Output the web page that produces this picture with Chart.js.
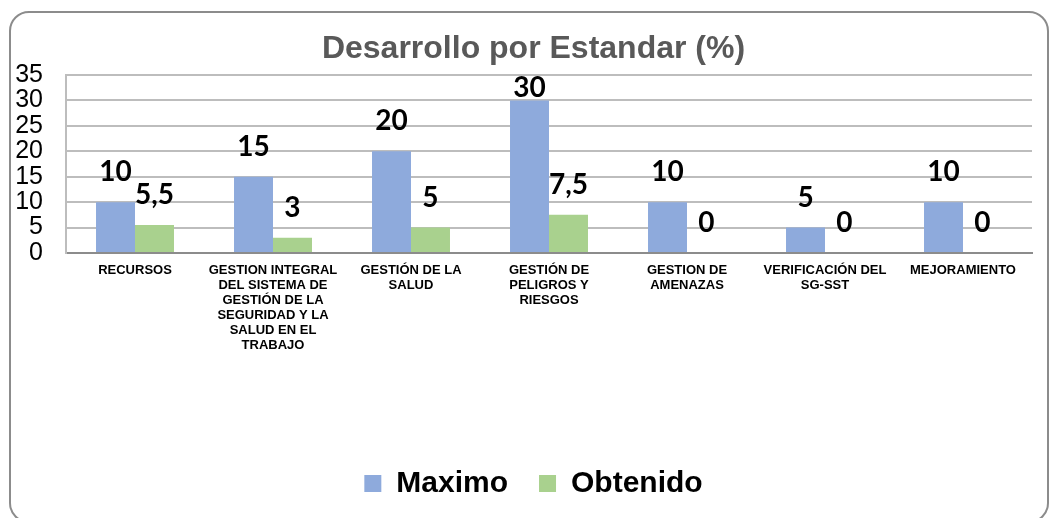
<!DOCTYPE html>
<html>
<head>
<meta charset="utf-8">
<script src="https://cdn.jsdelivr.net/npm/chart.js@4/dist/chart.umd.min.js"></script>
<style>
    html, body { margin: 0; padding: 0; background: #fff; }
    #wrap { position: relative; width: 1050px; height: 518px; overflow: hidden; }
    #frame {
        position: absolute; left: 9px; top: 11px; width: 1040px; height: 512px;
        box-sizing: border-box; border: 2px solid #8c8c8c; border-radius: 20px;
    }
    #chart { position: absolute; left: 0; top: 0; }
</style>
</head>
<body>
<div id="wrap">
    <div id="frame"></div>
    <canvas id="chart" width="1050" height="518"></canvas>
</div>
<script>
// ── Data ──────────────────────────────────────────────────────────────────
const categories = [
    ['RECURSOS'],
    ['GESTION INTEGRAL', 'DEL SISTEMA DE', 'GESTIÓN DE LA', 'SEGURIDAD Y LA', 'SALUD EN EL', 'TRABAJO'],
    ['GESTIÓN DE LA', 'SALUD'],
    ['GESTIÓN DE', 'PELIGROS Y', 'RIESGOS'],
    ['GESTION DE', 'AMENAZAS'],
    ['VERIFICACIÓN DEL', 'SG-SST'],
    ['MEJORAMIENTO'],
];
const maximo = [10, 15, 20, 30, 10, 5, 10];
const obtenido = [5.5, 3, 5, 7.5, 0, 0, 0];
const yTicks = [0, 5, 10, 15, 20, 25, 30, 35];

const BLUE = '#8eaadc';
const GREEN = '#a9d18e';
const GRID = '#bdbdbd';

// Value labels above each bar, kept inside the plot top
const barLabels = {
    id: 'barLabels',
    afterDatasetsDraw(chart) {
        const { ctx, chartArea } = chart;
        ctx.save();
        ctx.font = 'bold 28px Lato, "Liberation Sans", sans-serif';
        ctx.fillStyle = '#000';
        ctx.textAlign = 'center';
        ctx.textBaseline = 'middle';
        chart.data.datasets.forEach((ds, i) => {
            chart.getDatasetMeta(i).data.forEach((bar, j) => {
                const y = Math.max(bar.y - 30, chartArea.top + 13);
                ctx.fillText(String(ds.data[j]).replace('.', ','), bar.x, y);
            });
        });
        ctx.restore();
    },
};

new Chart(document.getElementById('chart'), {
    type: 'bar',
    data: {
        labels: categories,
        datasets: [
            { label: 'Maximo', data: maximo, backgroundColor: BLUE, borderWidth: 0 },
            { label: 'Obtenido', data: obtenido, backgroundColor: GREEN, borderWidth: 0 },
        ],
    },
    options: {
        responsive: false,
        animation: false,
        events: [],
        layout: { padding: { left: 35, right: 18, top: 0, bottom: 9.5 } },
        datasets: { bar: { categoryPercentage: 0.565, barPercentage: 1 } },
        plugins: {
            title: {
                display: true,
                text: 'Desarrollo por Estandar (%)',
                color: '#595959',
                font: { family: '"Liberation Sans", Arial, sans-serif', size: 32, weight: 'bold' },
                padding: { top: 30, bottom: 6.6 },
            },
            legend: {
                position: 'bottom',
                labels: {
                    color: '#000',
                    boxWidth: 17,
                    boxHeight: 17,
                    padding: 31,
                    font: { family: '"Liberation Sans", Arial, sans-serif', size: 30, weight: 'bold' },
                },
            },
            tooltip: { enabled: false },
        },
        scales: {
            x: {
                grid: { display: false, drawTicks: false },
                border: { color: '#8c8c8c', width: 2 },
                ticks: {
                    color: '#000',
                    autoSkip: false,
                    maxRotation: 0,
                    padding: 10,
                    font: { family: '"Liberation Sans", Arial, sans-serif', size: 13, weight: 'bold', lineHeight: 1.15 },
                },
                afterFit: (s) => { s.height = 184.5; },
            },
            y: {
                min: 0,
                max: 35,
                afterBuildTicks: (s) => { s.ticks = yTicks.map((v) => ({ value: v })); },
                grid: { color: GRID, lineWidth: 2, drawTicks: false },
                border: { color: GRID, width: 2 },
                ticks: {
                    color: '#000',
                    autoSkip: false,
                    padding: 23,
                    font: { family: '"Liberation Sans", Arial, sans-serif', size: 25, lineHeight: 1 },
                },
                afterFit: (s) => {
                    s.width = 31;
                    // labels sit left of the narrow axis box, so don't clip them
                    s._computeLabelArea = () => null;
                },
            },
        },
    },
    plugins: [barLabels],
});
</script>
</body>
</html>
